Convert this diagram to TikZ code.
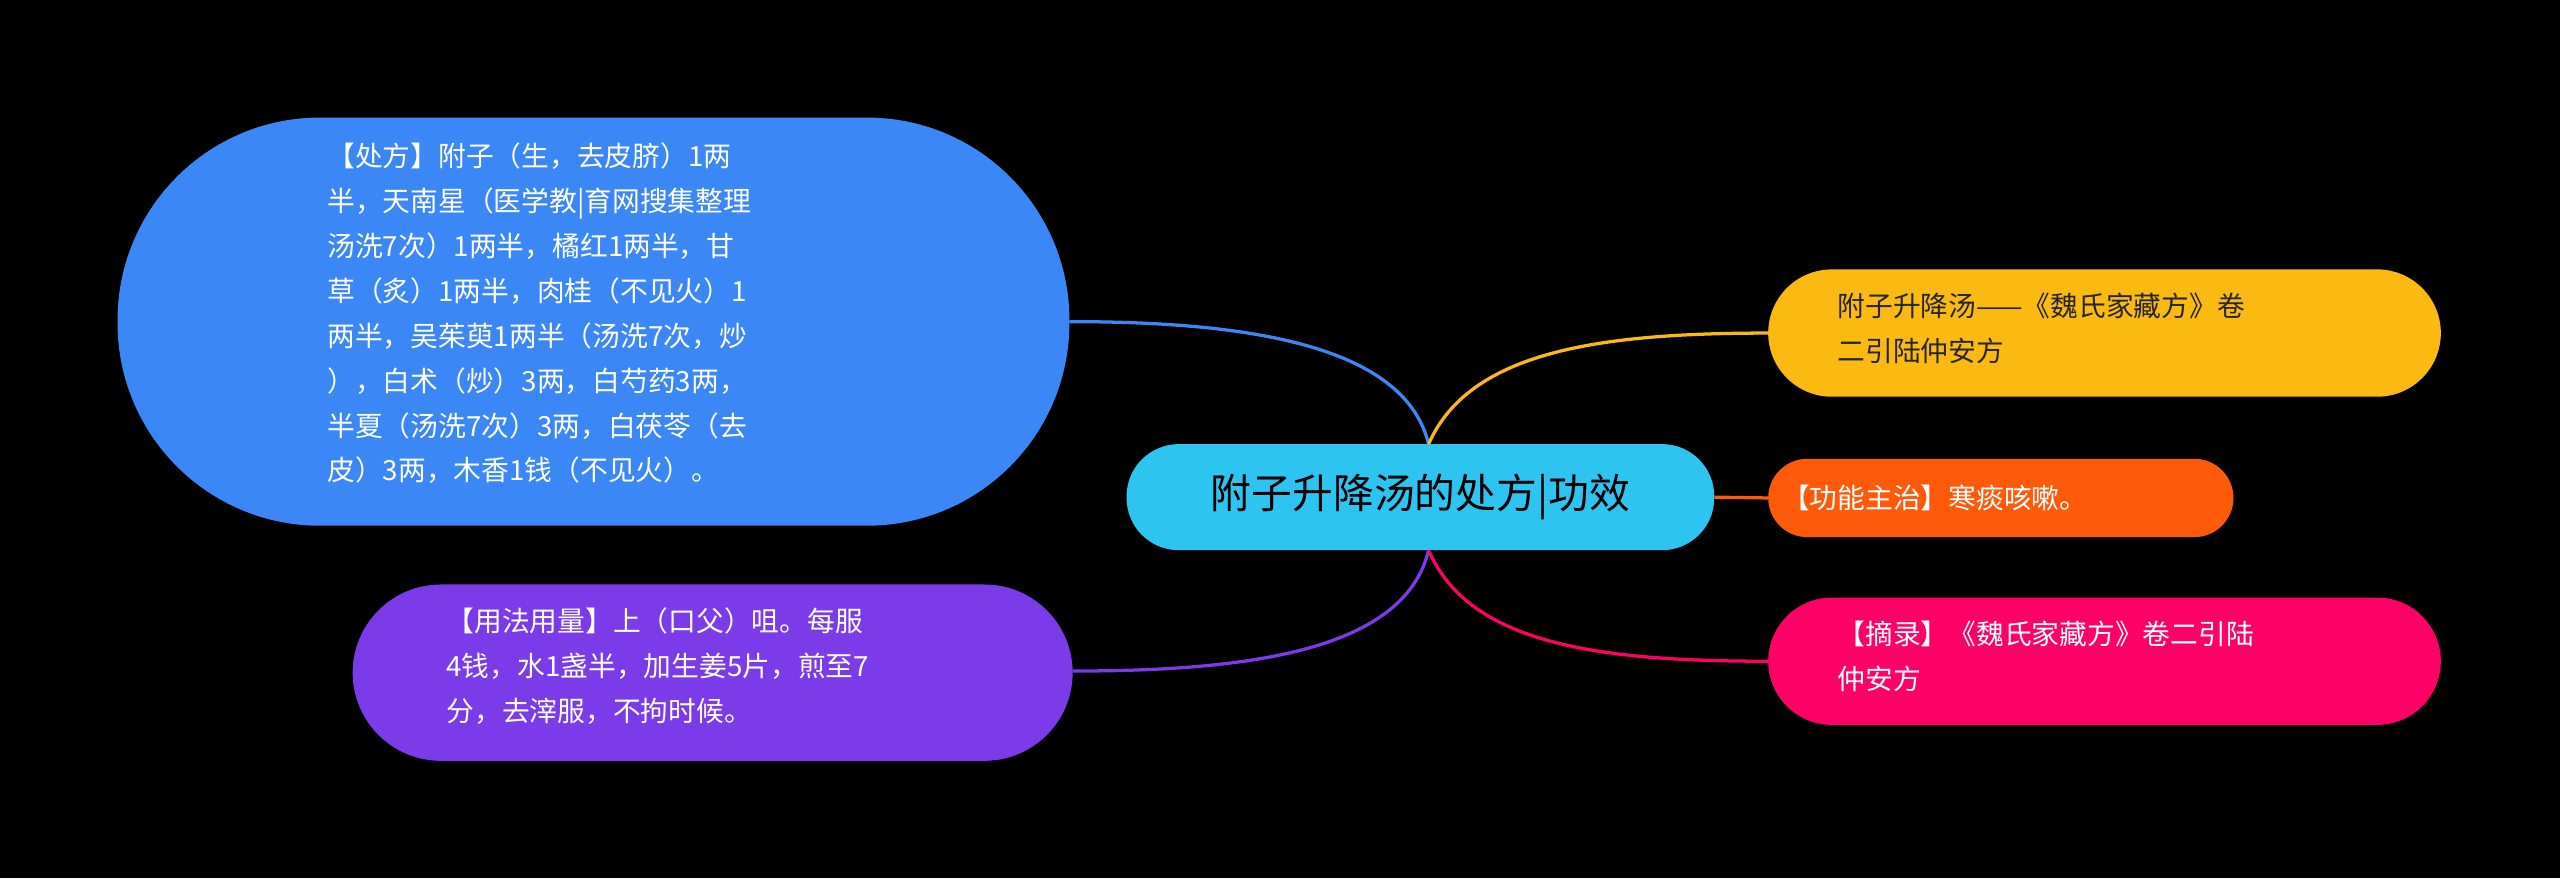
\documentclass[tikz,border=0pt]{standalone}
\usepackage{fontspec}
\setmainfont{Noto Sans CJK SC}
\begin{document}
\begin{tikzpicture}[x=1pt,y=-1pt,
 leaf/.style={rounded corners=#1, inner sep=0pt},
 txt/.style={align=left, anchor=north west, font=\fontsize{17}{27.5}\selectfont},
 conn/.style={line width=2pt}]
\fill[black] (0,0) rectangle (1568,538);
\useasboundingbox (0,0) rectangle (1568,538);
% boxes
\fill[rounded corners=32, fill={rgb,255:red,46;green,196;blue,240}] (690,272) rectangle (1050,337);
\node (c) at (870,304.5) {\fontsize{25}{30}\selectfont 附子升降汤的处方|功效};
\coordinate (ct) at (875,272); \coordinate (cb) at (875,337); \coordinate (cr) at (1050,304.5);
\fill[rounded corners=124, fill={rgb,255:red,58;green,135;blue,245}] (72,72) rectangle (655,322);
\node[txt,text=white] (a) at (197,84) {【处方】附子（生，去皮脐）1两\\半，天南星（医学教|育网搜集整理\\汤洗7次）1两半，橘红1两半，甘\\草（炙）1两半，肉桂（不见火）1\\两半，吴茱萸1两半（汤洗7次，炒\\），白术（炒）3两，白芍药3两，\\半夏（汤洗7次）3两，白茯苓（去\\皮）3两，木香1钱（不见火）。};
\coordinate (ar) at (655,197);
\fill[rounded corners=54, fill={rgb,255:red,123;green,59;blue,232}] (216,358) rectangle (657,466);
\node[txt,text=white] (p) at (270,369) {【用法用量】上（口父）咀。每服\\4钱，水1盏半，加生姜5片，煎至7\\分，去滓服，不拘时候。};
\coordinate (pr) at (657,411);
\fill[rounded corners=39, fill={rgb,255:red,251;green,186;blue,18}] (1083,165) rectangle (1495,243);
\node[txt,text=black!85] (y) at (1122,176) {附子升降汤——《魏氏家藏方》卷\\二引陆仲安方};
\coordinate (yl) at (1083,204);
\fill[rounded corners=24, fill={rgb,255:red,255;green,90;blue,10}] (1083,281) rectangle (1368,329);
\node[txt,text=white,anchor=west] (o) at (1088,305) {【功能主治】寒痰咳嗽。};
\coordinate (ol) at (1083,305);
\fill[rounded corners=39, fill={rgb,255:red,255;green,0;blue,102}] (1083,366) rectangle (1495,444);
\node[txt,text=white] (k) at (1122,377) {【摘录】《魏氏家藏方》卷二引陆\\仲安方};
\coordinate (kl) at (1083,405);
% connectors
\draw[conn,color={rgb,255:red,58;green,135;blue,245}] (ct) .. controls (860,210) and (760,197) .. (ar);
\draw[conn,color={rgb,255:red,123;green,59;blue,232}] (cb) .. controls (860,400) and (760,411) .. (pr);
\draw[conn,color={rgb,255:red,251;green,186;blue,18}] (ct) .. controls (900,215) and (980,204) .. (yl);
\draw[conn,color={rgb,255:red,255;green,90;blue,10}] (cr) -- (ol);
\draw[conn,color={rgb,255:red,255;green,0;blue,102}] (cb) .. controls (900,395) and (980,405) .. (kl);
\end{tikzpicture}
\end{document}
